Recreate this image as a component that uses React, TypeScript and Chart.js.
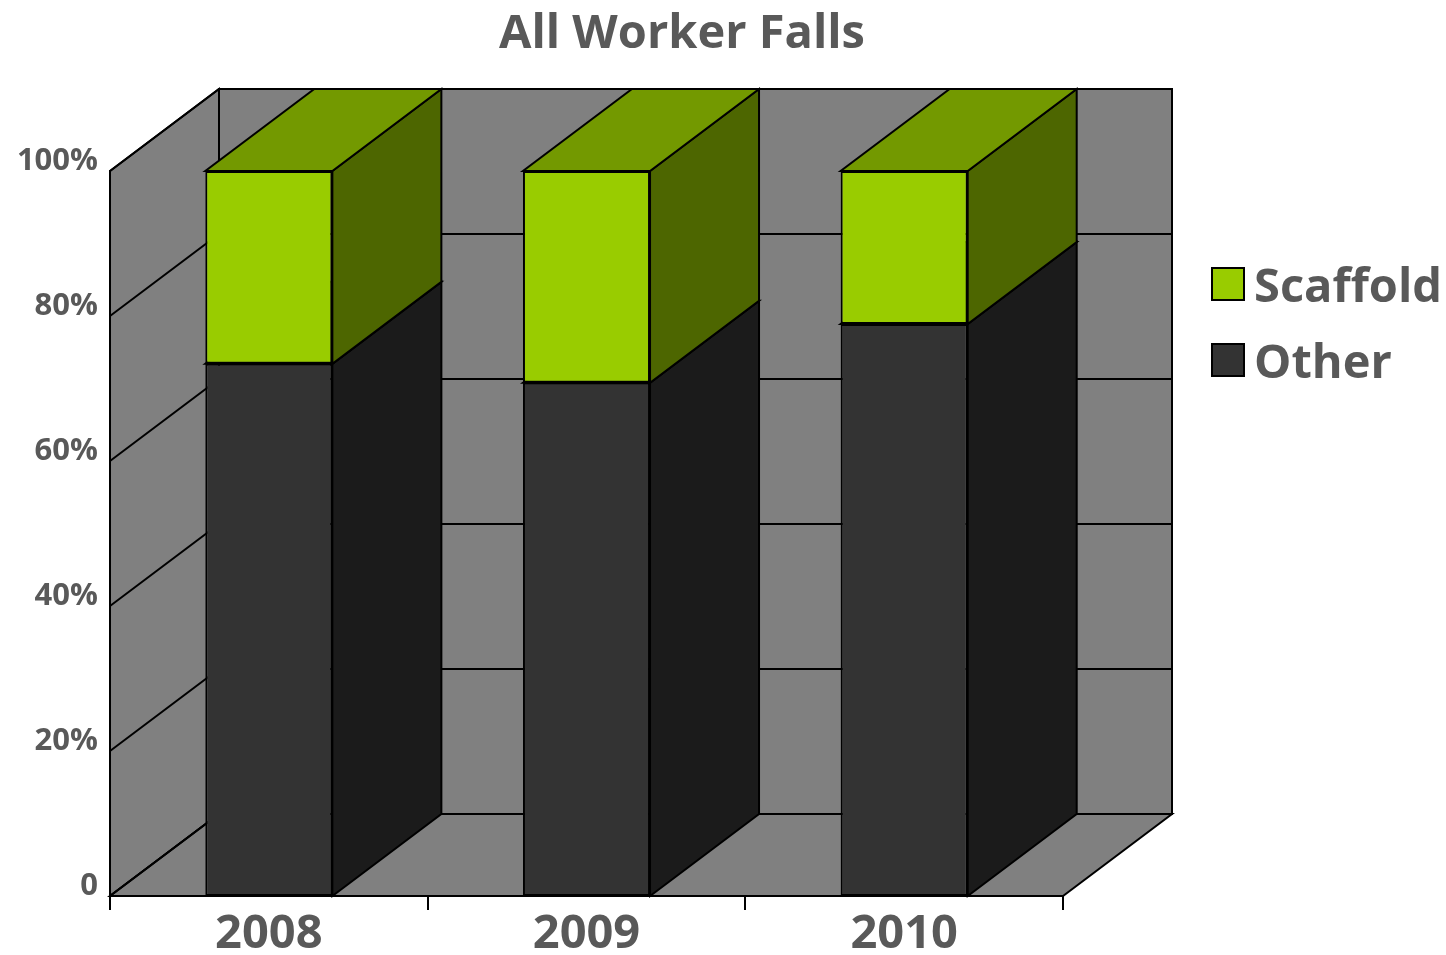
import React, { useEffect, useRef } from 'react';
import { Chart, registerables } from 'chart.js';

Chart.register(...registerables);

const chartTitle = 'All Worker Falls';
const categories = ['2008', '2009', '2010'];
const seriesNames = ['Other', 'Scaffold'];
const otherValues = [73.4, 70.8, 78.9];
const scaffoldValues = [26.6, 29.2, 21.1];
const yTickValues = [0, 20, 40, 60, 80, 100];

const DX = 109;
const DY = -82;
const FONT = '"Open Sans", sans-serif';
const TEXT = '#595959';
const WALL = '#808080';
const frontColors = ['#333333', '#99cc00'];
const sideColors = ['#1b1b1b', '#4d6600'];
const topColors = ['#262626', '#739900'];

function poly(ctx: CanvasRenderingContext2D, pts: number[][], fill: string | null, stroke = true) {
  ctx.beginPath();
  ctx.moveTo(pts[0][0], pts[0][1]);
  for (let i = 1; i < pts.length; i++) ctx.lineTo(pts[i][0], pts[i][1]);
  ctx.closePath();
  if (fill) {
    ctx.fillStyle = fill;
    ctx.fill();
  }
  if (stroke) ctx.stroke();
}

const threeD = {
  id: 'threeD',
  beforeDraw(chart: any) {
    const { ctx, chartArea } = chart;
    const { left, right, top, bottom } = chartArea;
    const y = chart.scales.y;
    ctx.save();
    ctx.lineWidth = 2;
    ctx.strokeStyle = '#000';
    ctx.lineJoin = 'miter';
    poly(ctx, [[left + DX, top + DY], [right + DX, top + DY], [right + DX, bottom + DY], [left + DX, bottom + DY]], WALL);
    poly(ctx, [[left, top], [left + DX, top + DY], [left + DX, bottom + DY], [left, bottom]], WALL);
    poly(ctx, [[left, bottom], [right, bottom], [right + DX, bottom + DY], [left + DX, bottom + DY]], WALL);
    ctx.beginPath();
    for (const v of yTickValues) {
      const py = y.getPixelForValue(v);
      ctx.moveTo(left, py);
      ctx.lineTo(left + DX, py + DY);
      ctx.lineTo(right + DX, py + DY);
    }
    ctx.stroke();
    ctx.restore();
  },
  beforeDatasetsDraw(chart: any) {
    const { ctx } = chart;
    ctx.save();
    ctx.lineWidth = 2;
    ctx.strokeStyle = '#000';
    chart.data.datasets.forEach((_ds: any, d: number) => {
      const meta = chart.getDatasetMeta(d);
      meta.data.forEach((el: any) => {
        const { x, y, base, width } = el.getProps(['x', 'y', 'base', 'width'], true);
        const l = x - width / 2;
        const r = x + width / 2;
        poly(ctx, [[r, y], [r + DX, y + DY], [r + DX, base + DY], [r, base]], sideColors[d]);
        poly(ctx, [[l, y], [r, y], [r + DX, y + DY], [l + DX, y + DY]], topColors[d]);
      });
    });
    ctx.restore();
  },
  afterDraw(chart: any) {
    const { ctx } = chart;
    ctx.save();
    ctx.fillStyle = TEXT;
    ctx.font = `bold 47px ${FONT}`;
    ctx.textAlign = 'center';
    ctx.textBaseline = 'alphabetic';
    ctx.fillText(chartTitle, 682, 48);
    const ds = chart.data.datasets;
    const rows = [284, 360];
    ctx.textAlign = 'left';
    ctx.textBaseline = 'middle';
    ctx.lineWidth = 2;
    ctx.strokeStyle = '#000';
    for (let i = 0; i < ds.length; i++) {
      const d = ds.length - 1 - i;
      const cy = rows[i];
      ctx.fillStyle = frontColors[d];
      ctx.fillRect(1212, cy - 16, 32, 32);
      ctx.strokeRect(1212, cy - 16, 32, 32);
      ctx.fillStyle = TEXT;
      ctx.font = `bold 47px ${FONT}`;
      ctx.fillText(ds[d].label, 1254, cy + 5);
    }
    ctx.restore();
  },
};

export default function App() {
  const ref = useRef<HTMLCanvasElement | null>(null);
  useEffect(() => {
    if (!ref.current) return;
    const chart = new Chart(ref.current, {
      type: 'bar',
      data: {
        labels: categories,
        datasets: [
          {
            label: seriesNames[0],
            data: otherValues,
            backgroundColor: frontColors[0],
            borderColor: '#000',
            borderWidth: 2,
            borderSkipped: false,
          },
          {
            label: seriesNames[1],
            data: scaffoldValues,
            backgroundColor: frontColors[1],
            borderColor: '#000',
            borderWidth: 2,
            borderSkipped: false,
          },
        ],
      },
      options: {
        responsive: false,
        animation: false,
        layout: { padding: { left: 0, top: 171, right: 383, bottom: 0 } },
        datasets: { bar: { categoryPercentage: 1, barPercentage: 0.4 } },
        plugins: {
          legend: { display: false },
          title: { display: false },
          tooltip: { enabled: false },
        },
        scales: {
          x: {
            stacked: true,
            afterFit: (s: any) => {
              s.height = 59;
            },
            grid: {
              display: true,
              drawOnChartArea: false,
              drawTicks: true,
              tickLength: 14,
              color: '#000',
              lineWidth: 2,
              offset: true,
            },
            border: { display: true, color: '#000', width: 2 },
            ticks: {
              color: TEXT,
              font: { family: FONT, size: 47, weight: 'bold' },
              padding: -4,
              maxRotation: 0,
            },
          },
          y: {
            stacked: true,
            min: 0,
            max: 100,
            afterFit: (s: any) => {
              s.width = 110;
            },
            afterBuildTicks: (s: any) => {
              s.ticks = yTickValues.map((v) => ({ value: v }));
            },
            grid: { display: false, drawTicks: false },
            border: { display: true, color: '#000', width: 2 },
            ticks: {
              color: TEXT,
              font: { family: FONT, size: 31, weight: 'bold' },
              padding: 12,
              labelOffset: -10,
              callback: (v: any) => (Number(v) === 0 ? '0' : `${v}%`),
            },
          },
        },
      },
      plugins: [threeD],
    });
    return () => chart.destroy();
  }, []);
  return (
    <div style={{ position: 'absolute', left: 0, top: 0, width: 1446, height: 955, background: '#fff' }}>
      <canvas ref={ref} width={1446} height={955} style={{ display: 'block' }} />
    </div>
  );
}
